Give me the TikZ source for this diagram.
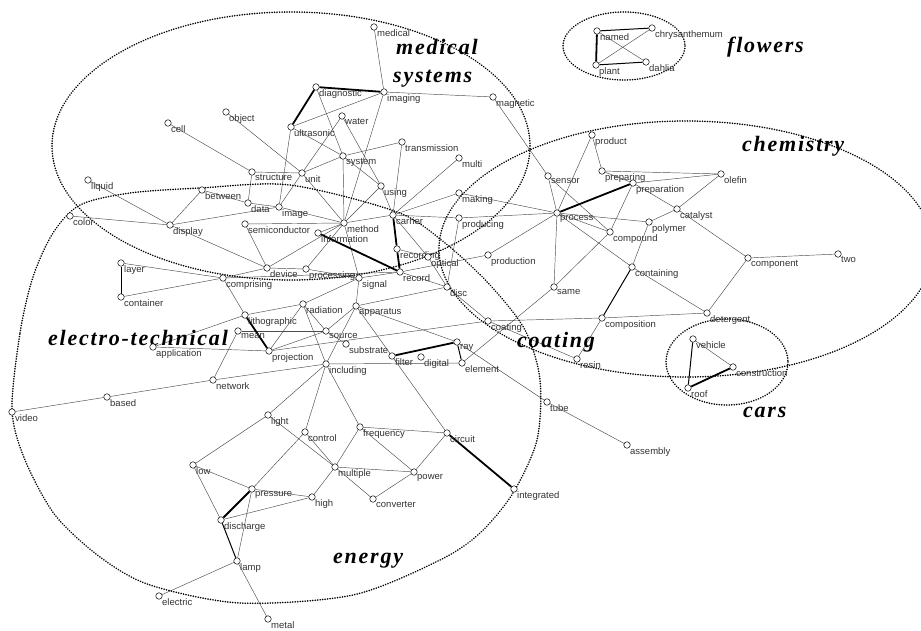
\documentclass[tikz,border=0pt]{standalone}
\usepackage{fontspec}
\setmainfont{Liberation Sans}
\newfontfamily\bigf{Liberation Serif}[LetterSpace=8]
\usetikzlibrary{backgrounds}
\newcommand\nd[4]{\node[vtx] (#1) at (#2,#3) {}; \node[lbl] (#1-l) at (#2+3,#3+2) {#4};}
\begin{document}
\begin{tikzpicture}[x=1pt,y=-1pt,
 vtx/.style={circle,draw=black,line width=0.5pt,fill=white,inner sep=0pt,minimum size=6.5pt},
 lbl/.style={anchor=north west,inner sep=0pt,font=\fontsize{9.5}{10}\selectfont,text=black!80},
 ed/.style={draw=black!70,line width=0.45pt},
 hv/.style={draw=black,line width=1.8pt},
 md/.style={draw=black,line width=1pt},
 ell/.style={line width=1.7pt,dash pattern=on 0.1pt off 2.4pt,line cap=round},
 big/.style={font=\bigf\bfseries\itshape\fontsize{22}{24}\selectfont,inner sep=0pt,anchor=base west,text depth=0pt}]
\useasboundingbox (0,0) rectangle (921,631);
\clip (0,0) rectangle (921,631);
% ---------------- ellipses
\draw[ell] (291,146) ellipse [x radius=239, y radius=134];
\draw[ell] (686,249) ellipse [x radius=247, y radius=128];
\draw[ell] (624,46) ellipse [x radius=61, y radius=34];
\draw[ell] (727,362) ellipse [x radius=61, y radius=43];
\draw[ell] plot[smooth cycle] coordinates {(12,410) (20,333) (33,277) (53,233) (80,205) (130,193) (200,188) (290,185) (397,212) (445,243) (490,285) (525,330) (540,380) (537,440) (513,493) (480,533) (440,560) (353,595) (240,603) (150,585) (100,557) (55,515) (25,460)};
% ---------------- big labels
\node[big] (tmed) at (396,55) {medical};
\node[big] (tsys) at (393,83) {systems};
\node[big] (tflo) at (727,53) {flowers};
\node[big] (tche) at (742,152) {chemistry};
\node[big] (tcar) at (743,417) {cars};
\node[big] (tele) at (48,345) {electro-technical};
\node[big] (tcoa) at (517,347) {coating};
\node[big] (tene) at (333,563) {energy};
% ---------------- nodes
\nd{medical}{374}{27}{medical}
\nd{diagnostic}{316}{87}{diagnostic}
\nd{imaging}{384}{92}{imaging}
\nd{magnetic}{493}{97}{magnetic}
\nd{object}{226}{112}{object}
\nd{cell}{168}{123}{cell}
\nd{water}{342}{116}{water}
\nd{ultrasonic}{291}{127}{ultrasonic}
\nd{transmission}{402}{142}{transmission}
\nd{system}{343}{156}{system}
\nd{multi}{459}{158}{multi}
\nd{structure}{252}{172}{structure}
\nd{unit}{302}{173}{unit}
\nd{using}{381}{186}{using}
\nd{liquid}{88}{180}{liquid}
\nd{between}{202}{190}{between}
\nd{making}{459}{193}{making}
\nd{data}{248}{203}{data}
\nd{image}{279}{207}{image}
\nd{carrier}{393}{215}{carrier}
\nd{color}{70}{216}{color}
\nd{display}{170}{225}{display}
\nd{semiconductor}{245}{224}{semiconductor}
\nd{method}{344}{223}{method}
\nd{information}{318}{233}{information}
\nd{producing}{459}{218}{producing}
\nd{recording}{397}{249}{recording}
\nd{optical}{428}{257}{optical}
\nd{production}{488}{255}{production}
\nd{layer}{121}{263}{layer}
\nd{device}{267}{268}{device}
\nd{processing}{306}{269}{processing}
\nd{record}{400}{272}{record}
\nd{signal}{359}{278}{signal}
\nd{comprising}{223}{278}{comprising}
\nd{disc}{447}{287}{disc}
\nd{container}{121}{297}{container}
\nd{radiation}{303}{304}{radiation}
\nd{apparatus}{356}{306}{apparatus}
\nd{lithographic}{245}{315}{lithographic}
\nd{mean}{238}{331}{mean}
\nd{source}{326}{331}{source}
\nd{substrate}{346}{344}{substrate}
\nd{application}{153}{347}{application}
\nd{projection}{269}{351}{projection}
\nd{filter}{392}{356}{filter}
\nd{digital}{421}{357}{digital}
\nd{ray}{457}{342}{ray}
\nd{element}{462}{363}{element}
\nd{including}{326}{364}{including}
\nd{network}{213}{380}{network}
\nd{based}{107}{397}{based}
\nd{video}{12}{412}{video}
\nd{light}{268}{415}{light}
\nd{control}{305}{432}{control}
\nd{frequency}{360}{427}{frequency}
\nd{circuit}{447}{433}{circuit}
\nd{tube}{547}{402}{tube}
\nd{assembly}{627}{445}{assembly}
\nd{multiple}{335}{467}{multiple}
\nd{power}{414}{472}{power}
\nd{low}{193}{465}{low}
\nd{pressure}{252}{489}{pressure}
\nd{high}{312}{497}{high}
\nd{converter}{373}{499}{converter}
\nd{integrated}{514}{489}{integrated}
\nd{discharge}{221}{520}{discharge}
\nd{lamp}{237}{561}{lamp}
\nd{electric}{159}{596}{electric}
\nd{metal}{268}{619}{metal}
\nd{product}{592}{135}{product}
\nd{sensor}{548}{176}{sensor}
\nd{preparing}{602}{171}{preparing}
\nd{preparation}{633}{183}{preparation}
\nd{olefin}{721}{174}{olefin}
\nd{catalyst}{677}{209}{catalyst}
\nd{process}{557}{213}{process}
\nd{polymer}{649}{222}{polymer}
\nd{compound}{610}{232}{compound}
\nd{containing}{632}{267}{containing}
\nd{component}{748}{258}{component}
\nd{two}{838}{254}{two}
\nd{same}{554}{287}{same}
\nd{detergent}{707}{313}{detergent}
\nd{composition}{602}{318}{composition}
\nd{coating}{488}{321}{coating}
\nd{resin}{577}{359}{resin}
\nd{named}{597}{31}{named}
\nd{chrysanthemum}{652}{28}{chrysanthemum}
\nd{plant}{596}{65}{plant}
\nd{dahlia}{646}{62}{dahlia}
\nd{vehicle}{693}{339}{vehicle}
\nd{construction}{733}{367}{construction}
\nd{roof}{688}{388}{roof}
% ---------------- edges
\begin{scope}[on background layer]
\foreach \a/\b in {medical/imaging, ultrasonic/imaging, diagnostic/system, imaging/method,
 imaging/magnetic, magnetic/sensor, object/unit, cell/structure, ultrasonic/image,
 ultrasonic/system, water/unit, water/using, transmission/system, transmission/carrier,
 multi/carrier, structure/data, structure/unit, unit/system, unit/image, unit/method,
 system/method, system/using, using/carrier, using/method, between/data, between/display,
 liquid/display, color/display, display/image, display/device, data/image, image/method,
 semiconductor/method, semiconductor/device, method/carrier, method/information,
 method/device, method/processing, method/signal, carrier/making, carrier/producing,
 carrier/optical, making/process, producing/process, production/process, record/production,
 recording/optical, optical/disc, record/disc, disc/coating, coating/resin, producing/disc,
 coating/composition, composition/detergent, composition/resin, containing/detergent,
 process/containing, process/same, same/compound, same/element, process/sensor,
 sensor/compound, process/product, product/preparing, preparing/preparation, preparing/olefin,
 preparation/olefin, catalyst/olefin, preparation/catalyst, process/polymer,
 process/compound, compound/preparation, polymer/catalyst, polymer/containing,
 catalyst/component, component/two, component/detergent, vehicle/construction,
 named/dahlia, plant/chrysanthemum, layer/comprising, container/comprising,
 comprising/device, comprising/lithographic, comprising/record, device/processing,
 processing/signal, signal/record, signal/apparatus, signal/radiation,
 lithographic/radiation, application/projection, application/lithographic, network/mean,
 video/based, based/network, network/including, mean/source, radiation/source,
 radiation/including, radiation/projection, projection/source, projection/coating,
 apparatus/source, apparatus/including, apparatus/ray, apparatus/circuit, substrate/source,
 including/element, ray/tube, tube/assembly, disc/apparatus, including/light,
 including/control, including/frequency, light/low, light/multiple, control/multiple,
 control/pressure, frequency/multiple, frequency/power, frequency/circuit, multiple/power,
 multiple/converter, converter/power, power/circuit, multiple/high, pressure/high,
 discharge/high, pressure/lamp, low/discharge, low/pressure, lamp/electric, lamp/metal}
 \draw[ed] (\a) -- (\b);
\foreach \a/\b in {diagnostic/ultrasonic, diagnostic/imaging, carrier/recording,
 recording/record, information/record, process/preparation, roof/construction,
 named/plant, lithographic/projection, filter/ray, pressure/discharge, circuit/integrated}
 \draw[hv] (\a) -- (\b);
\foreach \a/\b in {containing/composition, vehicle/roof, named/chrysanthemum,
 plant/dahlia, layer/container, ray/element, discharge/lamp}
 \draw[md] (\a) -- (\b);
\end{scope}
\end{tikzpicture}
\end{document}
